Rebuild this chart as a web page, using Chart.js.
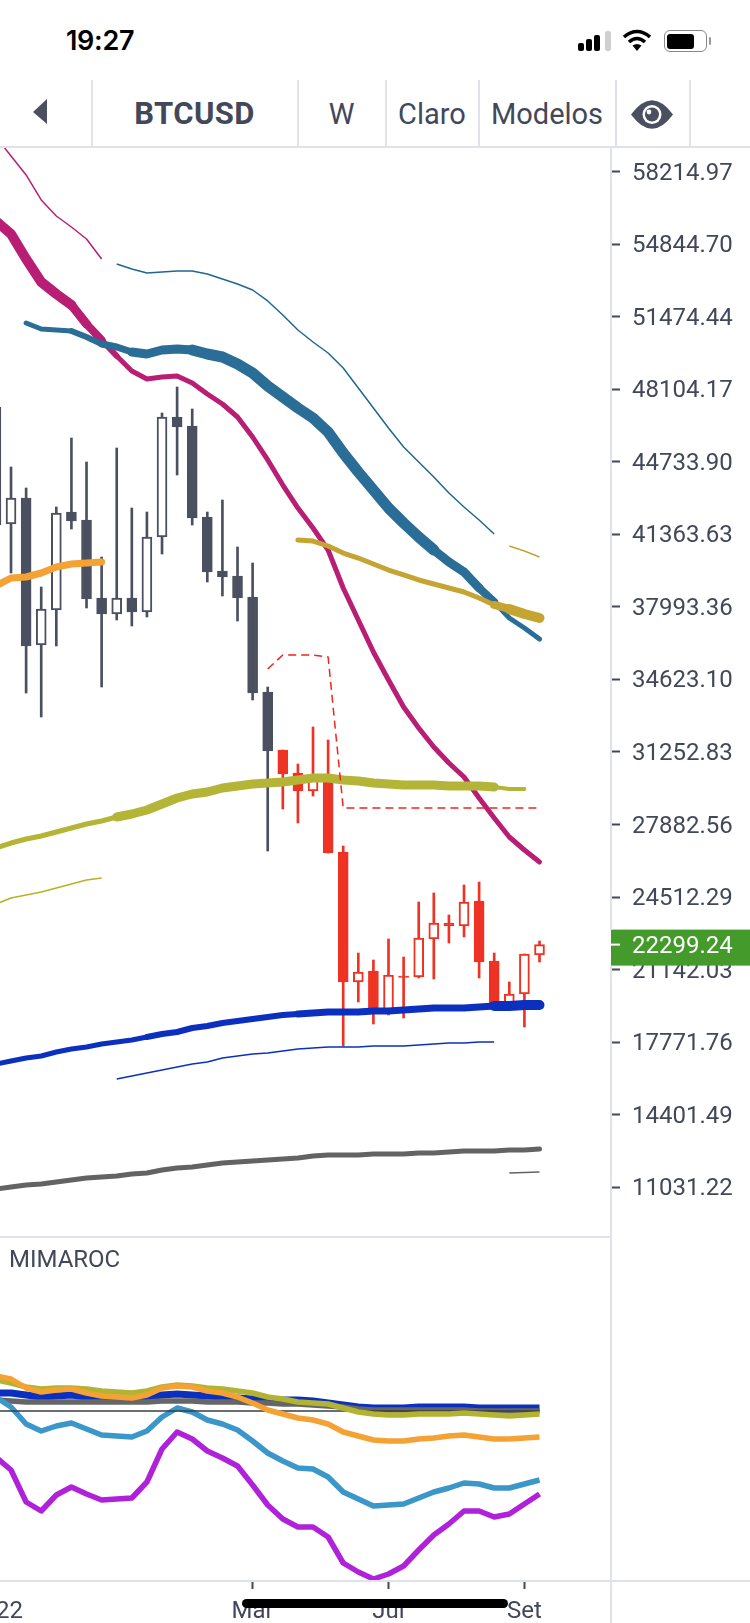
<!DOCTYPE html>
<html lang="pt">
  <head>
    <meta charset="UTF-8" />
    <title>BTCUSD</title>
    <style>
      html, body { margin: 0; padding: 0; background: #fff; }
      #page { position: relative; width: 750px; height: 1623px; overflow: hidden; font-family: Roboto, sans-serif; color: #42485a; }
      #page canvas { position: absolute; left: 0; }
      .abs { position: absolute; }
      .sep { position: absolute; background: #dfe2ed; }
      .btn { position: absolute; top: 80px; height: 67px; line-height: 68px; font-size: 29px; text-align: center; }
      .bar { position: absolute; width: 6px; border-radius: 2px; background: #000; }
    </style>
  </head>
  <body>
    <div id="page">
      <!-- status bar -->
      <div class="abs" style="left:66px;top:22px;font:600 27px/38px Inter,sans-serif;color:#000;letter-spacing:-0.3px">19:27</div>
      <div class="bar" style="left:578px;top:43px;height:8px"></div>
      <div class="bar" style="left:586px;top:39px;height:12px"></div>
      <div class="bar" style="left:594px;top:35px;height:16px"></div>
      <div class="bar" style="left:605px;top:31px;height:20px;background:#cfcfcf"></div>
      <svg class="abs" style="left:622px;top:29px" width="30" height="23" viewBox="0 0 30 23">
        <path d="M2 8 Q15 -3 28 8" fill="none" stroke="#000" stroke-width="3.6" />
        <path d="M7 13 Q15 6 23 13" fill="none" stroke="#000" stroke-width="3.6" />
        <path d="M10.5 16.5 Q15 13.5 19.5 16.5 L15 22 Z" fill="#000" />
      </svg>
      <div class="abs" style="left:664px;top:30px;width:41px;height:20px;border:1.5px solid #888;border-radius:6px"></div>
      <div class="abs" style="left:667px;top:34px;width:27px;height:15px;background:#000;border-radius:3px"></div>
      <div class="abs" style="left:709px;top:37px;width:2px;height:8px;background:#999;border-radius:1px"></div>

      <!-- toolbar -->
      <svg class="abs" style="left:32px;top:98px" width="16" height="27"><path d="M15 1 L15 26 L1 14 Z" fill="#4a5060" /></svg>
      <div class="btn" style="left:92px;width:205px;font-weight:700;font-size:31px;letter-spacing:0.4px">BTCUSD</div>
      <div class="btn" style="left:298px;width:87px">W</div>
      <div class="btn" style="left:386px;width:92px">Claro</div>
      <div class="btn" style="left:479px;width:136px">Modelos</div>
      <svg class="abs" style="left:630px;top:100px" width="44" height="29" viewBox="0 0 44 29">
        <path d="M1 14.5 Q22 -14 43 14.5 Q22 43 1 14.5 Z" fill="#4a5060" />
        <circle cx="22" cy="14.5" r="9.5" fill="#fff" />
        <circle cx="22" cy="14.5" r="7" fill="#4a5060" />
        <circle cx="19" cy="12" r="2.4" fill="#fff" />
      </svg>

      <canvas id="priceChart" width="750" height="1090" style="top:147px"></canvas>
      <canvas id="rocChart" width="750" height="386" style="top:1237px"></canvas>

      <div class="abs" style="left:9px;top:1245px;font-size:24px;line-height:28px">MIMAROC</div>

      <!-- frame lines -->
      <div class="sep" style="left:91px;top:80px;width:2px;height:67px"></div>
      <div class="sep" style="left:297px;top:80px;width:2px;height:67px"></div>
      <div class="sep" style="left:385px;top:80px;width:2px;height:67px"></div>
      <div class="sep" style="left:478px;top:80px;width:2px;height:67px"></div>
      <div class="sep" style="left:615px;top:80px;width:2px;height:67px"></div>
      <div class="sep" style="left:689px;top:80px;width:2px;height:67px"></div>
      <div class="sep" style="left:0;top:146px;width:750px;height:2px"></div>
      <div class="sep" style="left:610px;top:147px;width:2px;height:783px"></div>
      <div class="sep" style="left:610px;top:966px;width:2px;height:657px"></div>
      <div class="sep" style="left:0;top:1236px;width:611px;height:2px"></div>
      <div class="sep" style="left:0;top:1580px;width:750px;height:2px"></div>

      <!-- home indicator -->
      <div class="abs" style="left:242px;top:1599px;width:266px;height:9px;background:#000;border-radius:5px"></div>
    </div>

    <script src="https://cdn.jsdelivr.net/npm/chart.js@4.4.0/dist/chart.umd.js"></script>
    <script>
      // weekly candles, index 0 is just off the left edge
      const opens = [41805, 41851, 43060, 36227, 37854, 42409, 42037, 38412, 37668, 38412, 37761, 41247, 46826, 46407, 42177, 39667, 39435, 38458, 34042, 31345, 30276, 29439, 29951, 26604, 20561, 21072, 19259, 20770, 20794, 22560, 23164, 23164, 24326, 21537, 19492, 20003, 21816];
      const highs = [47291, 44501, 43525, 38923, 42642, 45849, 44734, 40317, 45385, 42595, 42409, 47012, 48220, 47198, 42409, 42967, 40782, 40038, 34274, 31345, 30695, 32415, 31811, 26883, 21909, 21584, 22560, 21723, 24280, 24698, 23676, 25070, 25210, 21909, 20561, 21863, 22467];
      const lows = [41805, 39573, 33995, 32880, 36181, 41619, 37947, 34274, 37389, 37110, 37529, 40457, 44129, 41805, 39156, 38505, 37343, 33670, 26650, 28603, 27952, 29207, 26557, 17586, 19631, 18608, 19027, 18887, 20747, 20700, 22374, 22653, 20747, 19492, 19492, 18469, 21491];
      const closes = [47291, 43060, 36181, 37901, 42363, 41991, 38365, 37668, 38412, 37761, 41247, 46826, 46361, 42130, 39621, 39388, 38412, 33995, 31299, 30230, 29439, 30090, 26557, 20561, 21026, 19259, 20886, 20840, 22606, 23304, 23304, 24280, 21491, 19492, 20003, 21863, 22299.24];
      const redFrom = 19;
      const dojiRange = 150;
      const lastPrice = 22299.24;

      const priceTicks = [58214.97, 54844.70, 51474.44, 48104.17, 44733.90, 41363.63, 37993.36, 34623.10, 31252.83, 27882.56, 24512.29, 21142.03, 17771.76, 14401.49, 11031.22];

      // moving averages on the price panel
      const thinPink = [59842, 58959, 58076, 56914, 56170, 55658, 55101, 54171];
      const thickPink = [55938, 55333, 54171, 53102, 52544, 52033, 51149, 50406, 49661, 48964, 48592, 48685, 48732, 48406, 47895, 47430, 46826, 45896, 44827, 43664, 42595, 41665, 40643, 38877, 37389, 35902, 34600, 33345, 32368, 31485, 30741, 30090, 29114, 28184, 27301, 26697, 26139];
      const thinTeal = [53938, 53706, 53520, 53567, 53613, 53613, 53474, 53241, 53009, 52730, 52219, 51568, 50870, 50313, 49801, 49104, 48174, 47244, 46314, 45431, 44734, 44036, 43292, 42642, 42037, 41386];
      const thickTeal = [51196, 50917, 50870, 50824, 50545, 50220, 50080, 49848, 49755, 49941, 49987, 49941, 49755, 49615, 49290, 48871, 48267, 47755, 47244, 46779, 46128, 45152, 44269, 43432, 42595, 41898, 41247, 40643, 40085, 39621, 38877, 38226, 37482, 37017, 36506];
      const thickGold = [41108, 41061, 40829, 40503, 40271, 39992, 39713, 39481, 39249, 39063, 38877, 38691, 38412, 38087, 37901, 37668, 37482];
      const thinGold = [40829, 40596, 40317];
      const thickOrange = [38970, 39342, 39388, 39574, 39853, 39992, 40038, 40085];
      const thickOlive = [26790, 27022, 27208, 27347, 27533, 27719, 27905, 28045, 28231, 28370, 28556, 28835, 29114, 29300, 29393, 29579, 29672, 29765, 29811, 29858, 29951, 30044, 30044, 29951, 29904, 29811, 29765, 29718, 29718, 29718, 29672, 29672, 29672, 29625, 29532, 29532];
      const thinOlive = [24187, 24466, 24605, 24745, 24931, 25117, 25303, 25396];
      const thickBlue = [16749, 16888, 17028, 17121, 17307, 17445, 17539, 17679, 17772, 17865, 18004, 18143, 18236, 18422, 18515, 18655, 18748, 18841, 18934, 19027, 19073, 19120, 19166, 19166, 19166, 19213, 19213, 19259, 19306, 19352, 19352, 19352, 19399, 19445, 19445, 19492, 19492];
      const thinBlue = [16052, 16191, 16330, 16470, 16609, 16749, 16842, 17028, 17121, 17214, 17260, 17353, 17446, 17493, 17539, 17539, 17539, 17586, 17586, 17586, 17632, 17679, 17725, 17725, 17772, 17772];
      const thickGray = [10938, 11031, 11124, 11170, 11263, 11356, 11449, 11495, 11542, 11635, 11681, 11821, 11914, 11960, 12053, 12146, 12193, 12239, 12286, 12332, 12379, 12472, 12518, 12518, 12518, 12565, 12565, 12565, 12611, 12611, 12658, 12704, 12704, 12704, 12751, 12751, 12797];
      const thinGray = [11681, 11705, 11728];
      const redStop = [35111, 35762, 35762, 35762, 35669, 28649, 28649, 28649, 28649, 28649, 28649, 28649, 28649, 28649, 28649, 28649, 28649, 28649, 28649];

      // MIMAROC panel
      const rocPurple = [-0.46, -0.59, -0.91, -1.00, -0.84, -0.76, -0.83, -0.89, -0.88, -0.87, -0.71, -0.38, -0.21, -0.28, -0.40, -0.47, -0.55, -0.74, -0.94, -1.08, -1.16, -1.16, -1.26, -1.52, -1.61, -1.68, -1.63, -1.55, -1.39, -1.24, -1.13, -1.00, -1.00, -1.06, -1.03, -0.93, -0.83];
      const rocLightBlue = [0.14, 0.04, -0.13, -0.20, -0.15, -0.12, -0.18, -0.24, -0.25, -0.26, -0.20, -0.06, 0.03, -0.01, -0.09, -0.13, -0.19, -0.30, -0.42, -0.50, -0.57, -0.58, -0.66, -0.81, -0.88, -0.95, -0.94, -0.93, -0.87, -0.81, -0.77, -0.72, -0.73, -0.77, -0.77, -0.73, -0.69];
      const rocOrange = [0.35, 0.32, 0.23, 0.19, 0.21, 0.22, 0.18, 0.15, 0.14, 0.13, 0.16, 0.23, 0.25, 0.24, 0.20, 0.18, 0.14, 0.08, 0.01, -0.03, -0.07, -0.09, -0.13, -0.21, -0.25, -0.29, -0.30, -0.30, -0.28, -0.27, -0.25, -0.24, -0.26, -0.28, -0.28, -0.27, -0.26];
      const rocOlive = [0.31, 0.28, 0.24, 0.22, 0.23, 0.23, 0.22, 0.20, 0.19, 0.18, 0.20, 0.24, 0.26, 0.25, 0.23, 0.22, 0.20, 0.18, 0.14, 0.12, 0.09, 0.08, 0.07, 0.03, -0.01, -0.03, -0.04, -0.04, -0.03, -0.03, -0.03, -0.02, -0.03, -0.04, -0.05, -0.04, -0.03];
      const rocBlue = [0.18, 0.18, 0.16, 0.14, 0.15, 0.16, 0.14, 0.12, 0.11, 0.12, 0.14, 0.16, 0.17, 0.16, 0.15, 0.14, 0.13, 0.12, 0.11, 0.11, 0.11, 0.10, 0.08, 0.06, 0.04, 0.03, 0.03, 0.03, 0.04, 0.04, 0.04, 0.04, 0.03, 0.03, 0.03, 0.03, 0.03];
      const rocGray = [0.11, 0.10, 0.09, 0.09, 0.09, 0.09, 0.09, 0.09, 0.09, 0.09, 0.09, 0.10, 0.10, 0.10, 0.09, 0.09, 0.09, 0.08, 0.08, 0.07, 0.07, 0.06, 0.05, 0.04, 0.02, 0.01, 0.01, 0.01, 0.01, 0.01, 0.01, 0.01, 0, 0, 0, 0, 0];
      const rocZero = [0, 0];

      const timeTicks = [0, 17, 26, 35];
      const timeLabels = ["2022", "Mar", "Jul", "Set"];

      const DARK = "#4a5060";
      const RED = "#ee3224";
      const TEXT = "#42485a";
      const X_MIN = 0.27;
      const X_MAX = 40.735;

      function pts(values, start) {
        return values.map(function (v, k) { return { x: start + k, y: v }; });
      }

      // stops is [[fromIndex, width], ...], segment width along the line
      function widths(stops) {
        return function (ctx) {
          var w = stops[0][1];
          stops.forEach(function (s) { if (ctx.p0DataIndex >= s[0]) w = s[1]; });
          return w;
        };
      }

      function line(values, start, color, stops, extra) {
        var ds = {
          type: "line",
          data: pts(values, start),
          borderColor: color,
          borderWidth: stops[0][1],
          borderCapStyle: "round",
          borderJoinStyle: "round",
          pointRadius: 0,
          tension: 0,
          segment: { borderWidth: widths(stops) },
        };
        return Object.assign(ds, extra || {});
      }

      function thin(values, start, color) {
        return line(values, start, color, [[0, 1.5]], { borderCapStyle: "butt" });
      }

      // no label overhang padding, the plot has to fill the canvas edge to edge
      function noOverhang(scale) {
        scale.paddingLeft = scale.paddingRight = scale.paddingTop = scale.paddingBottom = 0;
        scale.getPadding = function () { return { left: 0, top: 0, right: 0, bottom: 0 }; };
      }

      function candleColor(i) { return i < redFrom ? DARK : RED; }

      const bodies = opens.map(function (o, i) { return { x: i, y: [o, closes[i]] }; });
      const wicks = lows.map(function (l, i) { return { x: i, y: [l, highs[i]] }; });

      const lastPriceTag = {
        id: "lastPriceTag",
        afterDraw: function (chart) {
          var ctx = chart.ctx;
          var y = chart.scales.y.getPixelForValue(lastPrice);
          ctx.save();
          ctx.fillStyle = "#459a2c";
          ctx.fillRect(611, y - 15, 139, 36);
          ctx.fillStyle = "#fff";
          ctx.fillRect(611, y - 1, 9, 2);
          ctx.font = "24px Roboto";
          ctx.textBaseline = "middle";
          ctx.textAlign = "left";
          ctx.fillText(lastPrice.toFixed(2), 632, y + 2);
          ctx.restore();
        },
      };

      new Chart(document.getElementById("priceChart"), {
        type: "bar",
        data: {
          datasets: [
            Object.assign(line(redStop, 18, "#f0251d", [[0, 1.5]]), { borderDash: [8, 5], borderCapStyle: "butt", order: 0 }),
            Object.assign(line(thickGold, 20, "#c5a431", [[0, 5], [13, 8], [14, 10]]), { order: 1 }),
            Object.assign(thin(thinGold, 34, "#c5a431"), { order: 1 }),
            Object.assign(line(thickOlive, 0, "#b4b436", [[0, 5], [8, 9], [33, 4]]), { order: 2 }),
            Object.assign(thin(thinOlive, 0, "#b4b420"), { order: 2 }),
            Object.assign(line(thickOrange, 0, "#f4a233", [[0, 7]]), { order: 2 }),
            Object.assign(line(thickTeal, 2, "#2a6d96", [[0, 5], [3, 6], [5, 7], [7, 9], [11, 11], [27, 9], [30, 8], [31, 5]]), { order: 3 }),
            Object.assign(thin(thinTeal, 8, "#1f6790"), { order: 3 }),
            Object.assign(line(thickPink, 0, "#b81f74", [[0, 10], [5, 9], [6, 8], [7, 6], [8, 5]]), { order: 4 }),
            Object.assign(thin(thinPink, 0, "#b81f74"), { order: 4 }),
            Object.assign(line(thickBlue, 0, "#0b30bf", [[0, 5], [10, 6], [20, 7], [33, 10]]), { order: 5 }),
            Object.assign(thin(thinBlue, 8, "#0b30bf"), { order: 5 }),
            Object.assign(line(thickGray, 0, "#636363", [[0, 5]]), { order: 5 }),
            Object.assign(thin(thinGray, 34, "#636363"), { order: 5 }),
            {
              data: bodies,
              order: 10,
              grouped: false,
              barThickness: 10,
              borderWidth: 2,
              borderSkipped: false,
              borderColor: function (c) { return candleColor(c.dataIndex); },
              backgroundColor: function (c) {
                return closes[c.dataIndex] - opens[c.dataIndex] > dojiRange ? "#fff" : candleColor(c.dataIndex);
              },
            },
            {
              data: wicks,
              order: 11,
              grouped: false,
              barThickness: 2,
              borderWidth: 0,
              backgroundColor: function (c) { return candleColor(c.dataIndex); },
            },
          ],
        },
        options: {
          responsive: false,
          animation: false,
          events: [],
          layout: { padding: 0 },
          plugins: { legend: { display: false }, tooltip: { enabled: false } },
          scales: {
            x: { type: "linear", display: false, min: X_MIN, max: X_MAX, offset: false },
            y: {
              position: "right",
              min: 8707,
              max: 59377,
              afterBuildTicks: function (scale) {
                scale.ticks = priceTicks.map(function (v) { return { value: v }; });
              },
              afterFit: function (scale) { scale.width = 139; noOverhang(scale); },
              border: { display: false },
              grid: { drawOnChartArea: false, tickLength: 9, tickColor: TEXT, tickWidth: 2 },
              ticks: {
                color: TEXT,
                padding: 12,
                labelOffset: 2,
                autoSkip: false,
                font: { family: "Roboto", size: 24 },
                callback: function (v) { return v.toFixed(2); },
              },
            },
          },
        },
        plugins: [lastPriceTag],
      });

      new Chart(document.getElementById("rocChart"), {
        type: "line",
        data: {
          datasets: [
            line(rocPurple, 0, "#b022da", [[0, 5.5]], { borderCapStyle: "butt", order: 0 }),
            line(rocOrange, 0, "#f4a233", [[0, 5.5]], { borderCapStyle: "butt", order: 1 }),
            line(rocOlive, 0, "#b3b332", [[0, 5.5]], { borderCapStyle: "butt", order: 2 }),
            line(rocZero, 0, "#3a3d44", [[0, 1.5]], { data: [{ x: 0, y: rocZero[0] }, { x: 36, y: rocZero[1] }], borderCapStyle: "butt", order: 3 }),
            line(rocLightBlue, 0, "#3b96c9", [[0, 5.5]], { borderCapStyle: "butt", order: 4 }),
            line(rocGray, 0, "#666666", [[0, 5.5]], { borderCapStyle: "butt", order: 5 }),
            line(rocBlue, 0, "#0b30bf", [[0, 7]], { borderCapStyle: "butt", order: 6 }),
          ],
        },
        options: {
          responsive: false,
          animation: false,
          events: [],
          layout: { padding: 0 },
          plugins: { legend: { display: false }, tooltip: { enabled: false } },
          scales: {
            x: {
              type: "linear",
              min: X_MIN,
              max: X_MAX,
              afterBuildTicks: function (scale) {
                scale.ticks = timeTicks.map(function (v) { return { value: v }; });
              },
              afterFit: function (scale) { scale.height = 42; noOverhang(scale); },
              border: { display: false },
              grid: { drawOnChartArea: false, tickLength: 8, tickColor: TEXT, tickWidth: 2 },
              ticks: {
                color: TEXT,
                padding: 9,
                autoSkip: false,
                maxRotation: 0,
                font: { family: "Roboto", size: 24 },
                callback: function (v) { return timeLabels[timeTicks.indexOf(v)]; },
              },
            },
            y: {
              position: "right",
              min: -1.7,
              max: 1.74,
              afterFit: function (scale) { scale.width = 139; noOverhang(scale); },
              border: { display: false },
              grid: { display: false },
              ticks: { display: false },
            },
          },
        },
      });
    </script>
  </body>
</html>
